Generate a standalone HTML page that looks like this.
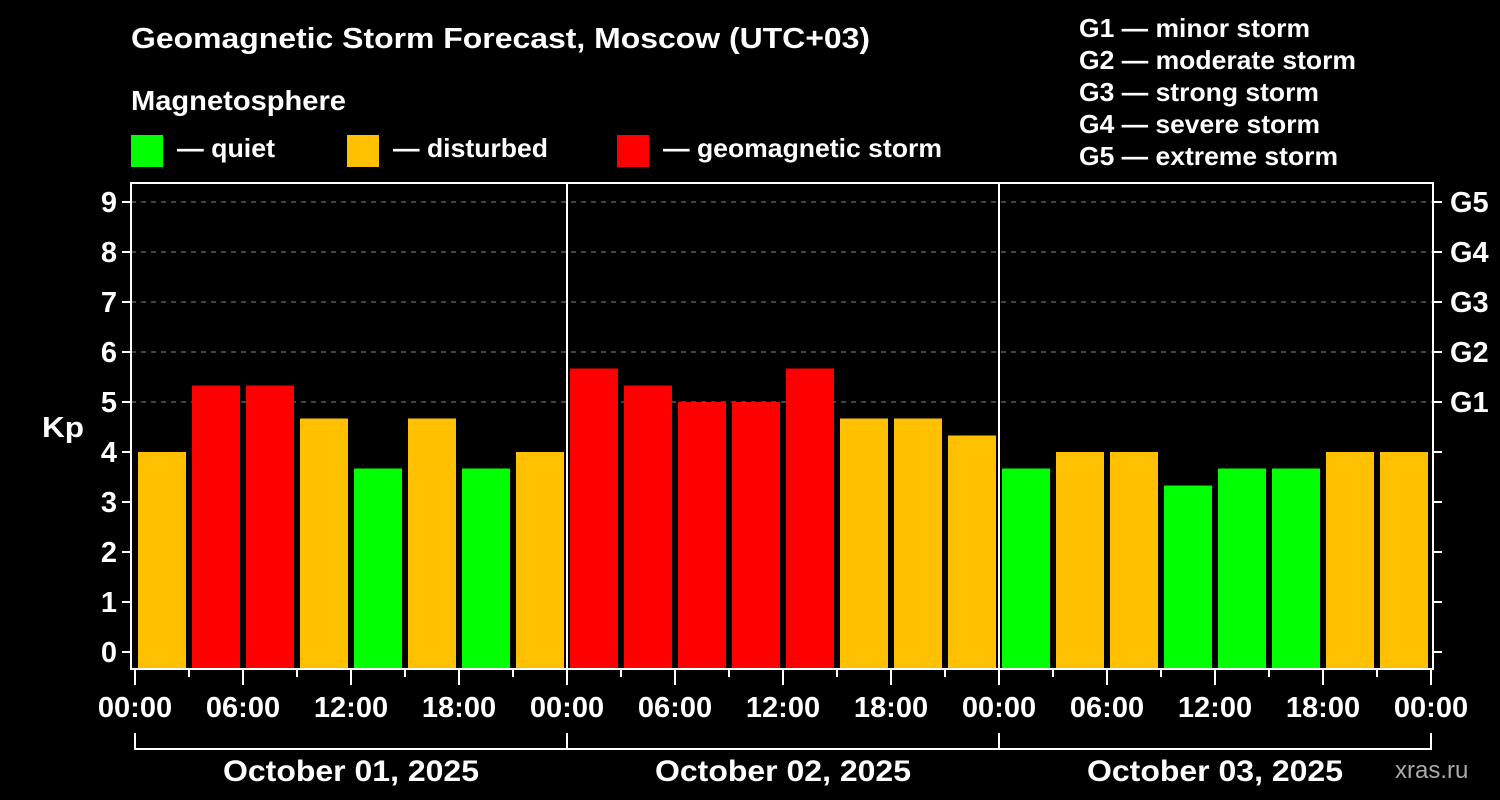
<!DOCTYPE html>
<html><head><meta charset="utf-8">
<style>
html,body{margin:0;padding:0;background:#000;}
svg{display:block;font-family:"Liberation Sans",Arial,sans-serif;font-weight:bold;}
</style></head>
<body>
<svg id="chart" width="1500" height="800" viewBox="0 0 1500 800">
<rect width="1500" height="800" fill="#000"/>
<text x="131" y="48" fill="#fff" font-size="29" textLength="739" lengthAdjust="spacingAndGlyphs">Geomagnetic Storm Forecast, Moscow (UTC+03)</text>
<text x="131" y="110" fill="#fff" font-size="28" textLength="215" lengthAdjust="spacingAndGlyphs">Magnetosphere</text>
<g><rect x="131" y="135" width="32" height="32" fill="#00ff00"/><text x="177" y="157" fill="#fff" font-size="26" textLength="98" lengthAdjust="spacingAndGlyphs">— quiet</text></g>
<g><rect x="347" y="135" width="32" height="32" fill="#ffc000"/><text x="393" y="157" fill="#fff" font-size="26" textLength="155" lengthAdjust="spacingAndGlyphs">— disturbed</text></g>
<g><rect x="617" y="135" width="32" height="32" fill="#ff0000"/><text x="663" y="157" fill="#fff" font-size="26" textLength="279" lengthAdjust="spacingAndGlyphs">— geomagnetic storm</text></g>
<g fill="#fff" font-size="26">
<text x="1079" y="37" textLength="231" lengthAdjust="spacingAndGlyphs">G1 — minor storm</text>
<text x="1079" y="69" textLength="277" lengthAdjust="spacingAndGlyphs">G2 — moderate storm</text>
<text x="1079" y="101" textLength="240" lengthAdjust="spacingAndGlyphs">G3 — strong storm</text>
<text x="1079" y="133" textLength="241" lengthAdjust="spacingAndGlyphs">G4 — severe storm</text>
<text x="1079" y="165" textLength="259" lengthAdjust="spacingAndGlyphs">G5 — extreme storm</text>
</g>
<text x="42" y="437" fill="#fff" font-size="29" textLength="42" lengthAdjust="spacingAndGlyphs">Kp</text>
<text x="1395" y="778" fill="#aaa" font-size="24" font-weight="normal">xras.ru</text>
<g id="grid"></g><g id="bars"></g><g id="axes"></g>
</svg>
<script>
const kpValues=[4.00,5.33,5.33,4.67,3.67,4.67,3.67,4.00, 5.67,5.33,5.00,5.00,5.67,4.67,4.67,4.33, 3.67,4.00,4.00,3.33,3.67,3.67,4.00,4.00];
const yTicks=[0,1,2,3,4,5,6,7,8,9];
const gLabels=["G1","G2","G3","G4","G5"];
const gLevels=[5,6,7,8,9];
const timeLabels=["00:00","06:00","12:00","18:00"];
const dayLabels=["October 01, 2025","October 02, 2025","October 03, 2025"];
const NS="http://www.w3.org/2000/svg";
const X0=135, SLOT=54, L=131, R=1433, T=183, B=669;
const y=v=>652-50*v;
const x=i=>X0+SLOT*i;
function mk(tag,attrs,parent){const e=document.createElementNS(NS,tag);for(const k in attrs)e.setAttribute(k,attrs[k]);parent.appendChild(e);return e;}
const grid=document.getElementById('grid'),bars=document.getElementById('bars'),axes=document.getElementById('axes');
yTicks.forEach(v=>{
  if(v>=5){const g=mk('line',{x1:L,x2:R,y1:y(v),y2:y(v),stroke:'#888','stroke-width':1,'stroke-dasharray':'5,5'},grid);
  
  }
  const t=mk('line',{x1:122,x2:L,y1:y(v),y2:y(v),stroke:'#fff','stroke-width':2},axes);
  
  
  const rt=mk('line',{x1:R,x2:1442,y1:y(v),y2:y(v),stroke:'#fff','stroke-width':2},axes);
  
  
  const lb=mk('text',{x:117,y:y(v)+10,fill:'#fff','font-size':29,'text-anchor':'end'},axes);lb.textContent=v;
  
  
});
gLabels.forEach((g,i)=>{
  const t=mk('text',{x:1450,y:y(gLevels[i])+10,fill:'#fff','font-size':29},axes);t.textContent=g;
  
  
});
kpValues.forEach((v,i)=>{
  const c=v>=5?'#ff0000':(v>=4?'#ffc000':'#00ff00');
  const r=mk('rect',{x:x(i)+3,y:y(v),width:48,height:B-y(v),fill:c},bars);
  
  
});
const f=mk('rect',{x:L,y:T,width:R-L,height:B-T,fill:'none',stroke:'#fff','stroke-width':2},axes);


for(let d=1;d<dayLabels.length;d++){
  const dl=mk('line',{x1:x(d*8),x2:x(d*8),y1:T,y2:B,stroke:'#fff','stroke-width':2},axes);
  
  
}
for(let i=0;i<=kpValues.length;i++){
  const major=i%2===0;
  const tk=mk('line',{x1:x(i),x2:x(i),y1:B,y2:major?685:677,stroke:'#fff','stroke-width':2},axes);
  
  
  if(major){
    const lb=mk('text',{x:x(i),y:717,fill:'#fff','font-size':29,'text-anchor':'middle'},axes);
    lb.textContent=timeLabels[(i/2)%4];
    
    
  }
}
dayLabels.forEach((d,i)=>{
  const a=x(i*8),b=x(i*8+8);
  const br=mk('path',{d:`M${a},733V749H${b}V733`,fill:'none',stroke:'#fff','stroke-width':2},axes);
  
  
  const t=mk('text',{x:(a+b)/2,y:781,fill:'#fff','font-size':30,'text-anchor':'middle',textLength:256,lengthAdjust:'spacingAndGlyphs'},axes);t.textContent=d;
  
  
});
</script>
</body></html>
